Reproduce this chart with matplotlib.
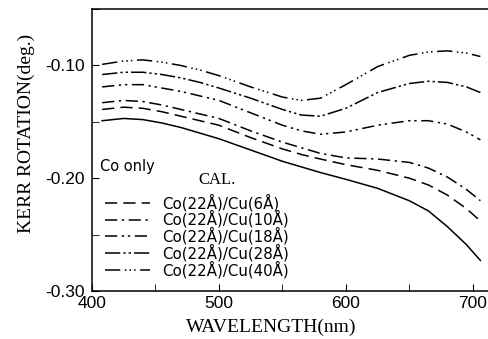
import matplotlib.pyplot as plt
from matplotlib.ticker import MultipleLocator

# wavelength grid (nm)
wavelength = [408, 425, 440, 455, 470, 485, 500, 525, 550, 565, 580, 600, 625, 650, 665, 680, 695, 706]

# Kerr rotation (deg.)
co_only = [-0.149, -0.147, -0.148, -0.151, -0.155, -0.160, -0.165, -0.175, -0.185, -0.190, -0.195, -0.201, -0.209, -0.220, -0.229, -0.243, -0.259, -0.273]
cu_6 = [-0.139, -0.137, -0.138, -0.141, -0.145, -0.149, -0.153, -0.164, -0.174, -0.179, -0.183, -0.188, -0.193, -0.200, -0.206, -0.215, -0.227, -0.238]
cu_10 = [-0.133, -0.131, -0.132, -0.135, -0.139, -0.143, -0.147, -0.158, -0.168, -0.173, -0.178, -0.182, -0.183, -0.186, -0.191, -0.199, -0.210, -0.220]
cu_18 = [-0.119, -0.117, -0.117, -0.120, -0.123, -0.127, -0.131, -0.142, -0.153, -0.158, -0.161, -0.159, -0.153, -0.149, -0.149, -0.152, -0.159, -0.166]
cu_28 = [-0.108, -0.106, -0.106, -0.108, -0.111, -0.115, -0.120, -0.129, -0.139, -0.144, -0.145, -0.138, -0.124, -0.116, -0.114, -0.115, -0.119, -0.124]
cu_40 = [-0.099, -0.096, -0.095, -0.097, -0.100, -0.104, -0.109, -0.119, -0.128, -0.131, -0.129, -0.117, -0.101, -0.091, -0.088, -0.087, -0.089, -0.092]

labels = ['Co(22Å)/Cu(6Å)', 'Co(22Å)/Cu(10Å)', 'Co(22Å)/Cu(18Å)',
          'Co(22Å)/Cu(28Å)', 'Co(22Å)/Cu(40Å)']
series = [cu_6, cu_10, cu_18, cu_28, cu_40]
styles = [(0, (8, 4)),
          (0, (8, 3, 1.5, 3)),
          (0, (8, 3, 1.5, 2.5, 1.5, 3)),
          (0, (10, 2, 1.5, 2, 1.5, 2)),
          (0, (10, 3, 1, 2, 1, 2, 1, 3))]

plt.rcParams['font.family'] = ['DejaVu Sans']

fig = plt.figure(figsize=(4.88, 3.39), dpi=100)
ax = fig.add_axes([0.1885, 0.142, 0.8115, 0.831])

ax.plot(wavelength, co_only, color='black', lw=1.1)
handles = []
for y, ls, lab in zip(series, styles, labels):
    h, = ax.plot(wavelength, y, color='black', lw=1.1, linestyle=ls, label=lab)
    handles.append(h)

ax.set_xlim(400, 712)
ax.set_ylim(-0.30, -0.05)
ax.xaxis.set_major_locator(MultipleLocator(100))
ax.xaxis.set_minor_locator(MultipleLocator(50))
ax.yaxis.set_minor_locator(MultipleLocator(0.05))
ax.set_yticks([-0.30, -0.20, -0.10])
ax.set_yticklabels(['-0.30', '-0.20', '-0.10'])
ax.tick_params(which='both', direction='in', length=5, top=False, right=False)
ax.tick_params(axis='y', pad=5)
for t in ax.get_xticklabels() + ax.get_yticklabels():
    t.set_fontfamily('Liberation Sans')
    t.set_fontsize(12.5)
ax.spines['right'].set_visible(False)
for s in ['left', 'bottom', 'top']:
    ax.spines[s].set_linewidth(1.1)

ax.set_xlabel('WAVELENGTH(nm)', fontsize=14, family='Liberation Serif')
ax.set_ylabel('KERR ROTATION(deg.)', fontsize=14, family='Liberation Serif')
ax.xaxis.set_label_coords(0.452, -0.1)
ax.yaxis.set_label_coords(-0.145, 0.56)

ax.text(0.02, 0.443, 'Co only', transform=ax.transAxes, fontsize=10.5, va='center')
ax.text(0.316, 0.393, 'CAL.', transform=ax.transAxes, fontsize=12, va='center',
        ha='center', family='Liberation Serif')

ax.legend(handles=handles, loc='upper left', bbox_to_anchor=(0.033, 0.345),
          frameon=False, fontsize=10.8, handlelength=3.0, handletextpad=0.8,
          labelspacing=-0.05, borderaxespad=0.0, borderpad=0.0)

fig.savefig('out.png', dpi=100)
